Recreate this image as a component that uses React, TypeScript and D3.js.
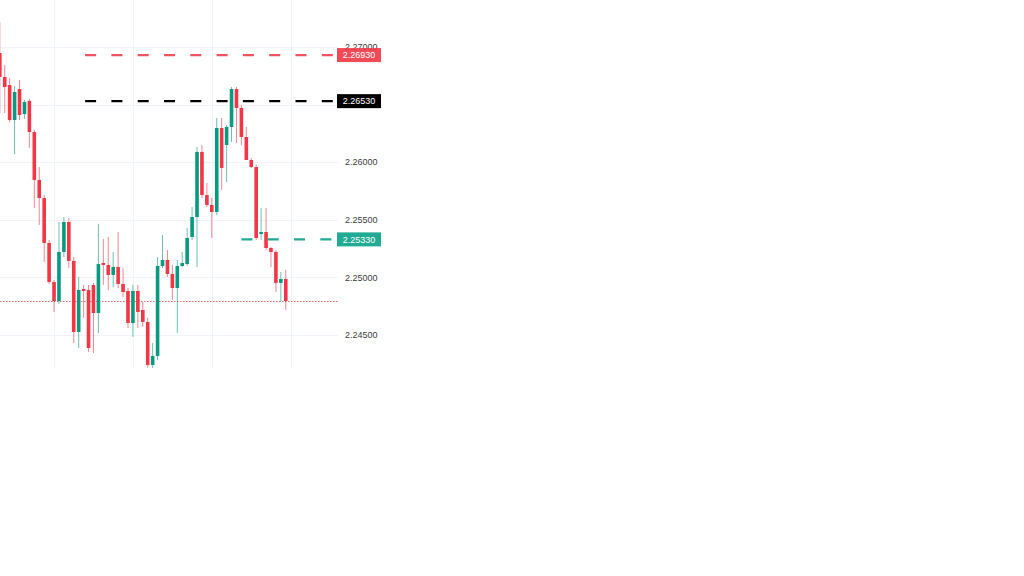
import React from "react";
import * as d3 from "d3";

const candleOpen = [2.26948, 2.26740, 2.26670, 2.26366, 2.26635, 2.26418, 2.26532, 2.26262, 2.25846, 2.25689,
  2.25299, 2.24960, 2.24795, 2.25221, 2.25481, 2.25143, 2.24526, 2.24900, 2.24891, 2.24934,
  2.24691, 2.25125, 2.25108, 2.25021, 2.25090, 2.24943, 2.24882, 2.24604, 2.24882, 2.24717,
  2.24613, 2.24240, 2.24318, 2.25099, 2.25151, 2.25030, 2.24908, 2.25099, 2.25116, 2.25351,
  2.25524, 2.26089, 2.25715, 2.25629, 2.25568, 2.26297, 2.26149, 2.26306, 2.26635, 2.26471,
  2.26219, 2.26019, 2.25958, 2.25377, 2.25394, 2.25255, 2.25221, 2.24952, 2.24986];
const candleHigh = [2.27217, 2.26844, 2.26731, 2.26662, 2.26714, 2.26540, 2.26549, 2.26280, 2.25958, 2.25715,
  2.25325, 2.24977, 2.25481, 2.25524, 2.25516, 2.25177, 2.25004, 2.24934, 2.24934, 2.24952,
  2.25464, 2.25333, 2.25351, 2.25221, 2.25394, 2.25082, 2.24908, 2.24934, 2.24934, 2.24787,
  2.24648, 2.24431, 2.25177, 2.25368, 2.25238, 2.25108, 2.25151, 2.25221, 2.25429, 2.25611,
  2.26132, 2.26149, 2.25820, 2.25689, 2.26384, 2.26384, 2.26323, 2.26653, 2.26653, 2.26497,
  2.26306, 2.26036, 2.25976, 2.25603, 2.25603, 2.25264, 2.25238, 2.25047, 2.25064];
const candleLow = [2.26427, 2.26427, 2.26349, 2.26071, 2.26366, 2.26375, 2.26123, 2.25603, 2.25455, 2.25134,
  2.24943, 2.24700, 2.24769, 2.25177, 2.25082, 2.24431, 2.24387, 2.24648, 2.24353, 2.24344,
  2.24518, 2.24934, 2.24891, 2.24917, 2.24908, 2.24830, 2.24561, 2.24483, 2.24561, 2.24570,
  2.24214, 2.24196, 2.24283, 2.25082, 2.25004, 2.24804, 2.24518, 2.25090, 2.25099, 2.25325,
  2.25090, 2.25689, 2.25611, 2.25342, 2.25542, 2.25759, 2.25828, 2.26175, 2.26167, 2.26149,
  2.26019, 2.25950, 2.25325, 2.25325, 2.25238, 2.25090, 2.24873, 2.24787, 2.24717];
const candleClose = [2.26740, 2.26653, 2.26366, 2.26609, 2.26410, 2.26523, 2.26262, 2.25846, 2.25689, 2.25299,
  2.24960, 2.24795, 2.25221, 2.25481, 2.25143, 2.24526, 2.24891, 2.24882, 2.24387, 2.24691,
  2.25116, 2.25108, 2.25021, 2.25090, 2.24943, 2.24873, 2.24604, 2.24882, 2.24700, 2.24613,
  2.24240, 2.24318, 2.25099, 2.25151, 2.25030, 2.24908, 2.25099, 2.25125, 2.25342, 2.25524,
  2.26089, 2.25715, 2.25629, 2.25568, 2.26297, 2.25950, 2.26306, 2.26635, 2.26471, 2.26219,
  2.26019, 2.25958, 2.25342, 2.25394, 2.25255, 2.25221, 2.24952, 2.24986, 2.24795];

const priceTicks = [2.245, 2.25, 2.255, 2.26, 2.265, 2.27];
const priceTickLabels = ["2.24500", "2.25000", "2.25500", "2.26000", "2.26500", "2.27000"];
const timeGridIndex = [11, 27, 43, 59];

const levelPrices = [2.2693, 2.2653, 2.2533];
const levelLabels = ["2.26930", "2.26530", "2.25330"];
const levelStartIndex = [17.3, 17.3, 49];
const levelColors = ["#F23645", "#000000", "#22AB94"];
const currentPrice = 2.24795;

const RED = "#F23645";
const GREEN = "#089981";

export default function App() {
  const plotW = 338;
  const plotH = 368;
  const y = d3.scaleLinear().domain([2.245, 2.27]).range([335, 47]);
  const x = d3.scaleLinear().domain([0, 59]).range([-0.2, 290.7]);
  const bodyW = 3.6;

  const candles = candleOpen.map((o, i) => ({
    i,
    o,
    h: candleHigh[i],
    l: candleLow[i],
    c: candleClose[i],
  }));

  // price-scale labels hidden by a level badge (as the trading chart does)
  const visibleTicks = priceTicks
    .map((p, k) => ({ p, label: priceTickLabels[k] }))
    .filter((t) => levelPrices.every((lp) => Math.abs(y(lp) - y(t.p)) > 6));

  const curY = Math.round(y(currentPrice)) + 0.5;

  return (
    <svg
      width={1024}
      height={576}
      style={{ position: "absolute", left: 0, top: 0, background: "#fff" }}
      fontFamily="'Liberation Sans', Arial, sans-serif"
    >
      <defs>
        <clipPath id="plot">
          <rect x={0} y={0} width={plotW} height={plotH} />
        </clipPath>
      </defs>
      <rect x={0} y={0} width={1024} height={576} fill="#fff" />
      <g clipPath="url(#plot)">
        {priceTicks.map((p, k) => (
          <line key={"h" + k} x1={0} x2={plotW} y1={Math.round(y(p)) + 0.5} y2={Math.round(y(p)) + 0.5} stroke="#f0f3fa" strokeWidth={1} />
        ))}
        {timeGridIndex.map((t, k) => (
          <line key={"v" + k} x1={Math.round(x(t)) + 0.5} x2={Math.round(x(t)) + 0.5} y1={0} y2={plotH} stroke="#f0f3fa" strokeWidth={1} />
        ))}
        <line x1={0} x2={plotW} y1={curY} y2={curY} stroke={RED} strokeWidth={1} strokeDasharray="1.5 1.5" opacity={0.75} />
        {candles.map((d) => {
          const col = d.c >= d.o ? GREEN : RED;
          const cx = x(d.i);
          const top = y(Math.max(d.o, d.c));
          const bot = y(Math.min(d.o, d.c));
          return (
            <g key={d.i}>
              <line x1={cx} x2={cx} y1={y(d.h)} y2={y(d.l)} stroke={col} strokeWidth={1} opacity={0.6} />
              <rect x={cx - bodyW / 2} y={top} width={bodyW} height={Math.max(1, bot - top)} fill={col} />
            </g>
          );
        })}
        {levelPrices.map((p, k) => (
          <line key={"l" + k} x1={x(levelStartIndex[k])} x2={335} y1={y(p)} y2={y(p)} stroke={levelColors[k]} strokeWidth={2.2} strokeDasharray="11 15.3" opacity={k === 0 ? 0.85 : 1} />
        ))}
      </g>
      {visibleTicks.map((t, k) => (
        <text key={"t" + k} x={345} y={y(t.p)} dy="0.35em" fontSize={9} fill="#3c3c3c">
          {t.label}
        </text>
      ))}
      {levelPrices.map((p, k) => (
        <g key={"b" + k}>
          <rect x={337} y={y(p) - 7} width={44} height={14} fill={levelColors[k]} opacity={k === 0 ? 0.9 : 1} />
          <text x={359} y={y(p)} dy="0.35em" textAnchor="middle" fontSize={9} fill="#fff">
            {levelLabels[k]}
          </text>
        </g>
      ))}
    </svg>
  );
}
